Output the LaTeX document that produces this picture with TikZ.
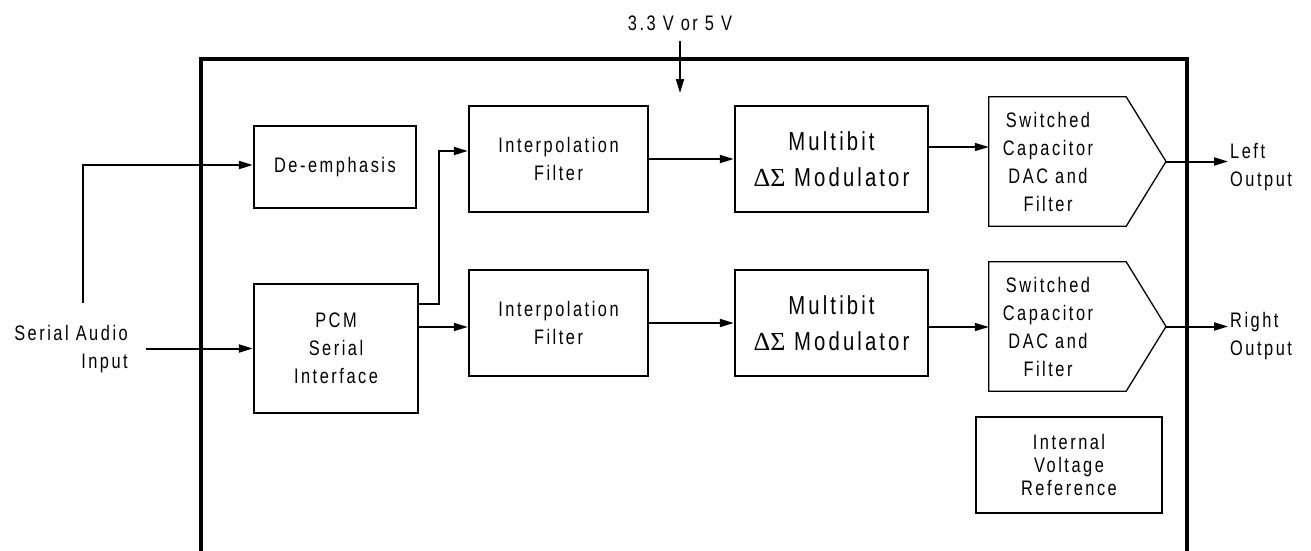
\documentclass[tikz,border=0pt]{standalone}
\usepackage{fontspec}
\setmainfont{Liberation Sans}[FakeStretch=0.78,LetterSpace=12]
\newfontfamily\grk{Liberation Serif}
\usetikzlibrary{arrows.meta}
\begin{document}
\begin{tikzpicture}[x=1pt,y=-1pt,
  blk/.style={draw,line width=2.4pt,inner sep=0pt,align=center,font=\fontsize{21}{28}\selectfont},
  modblk/.style={blk,font=\fontsize{26}{36}\selectfont},
  txt/.style={inner sep=0pt,font=\fontsize{21}{28}\selectfont},
  dacshape/.style={line width=1.3pt,line join=miter},
  arr/.style={line width=2pt,-{Triangle[length=14pt,width=8pt]}},
  tarr/.style={line width=1.4pt,-{Triangle[length=14pt,width=8pt]}},
  frame/.style={line width=3.2pt}]
\useasboundingbox (0,0) rectangle (1311,551);
% outer frame
\draw[frame] (201,556) -- (201,59) -- (1187,59) -- (1187,556);
% blocks
\node[blk,minimum width=162pt,minimum height=82pt] (deemph) at (335,167) {De-emphasis};
\node[blk,minimum width=164pt,minimum height=129pt] (pcm) at (336,348.5) {PCM\\Serial\\Interface};
\node[blk,minimum width=179pt,minimum height=106pt] (interp1) at (558.5,159) {Interpolation\\Filter};
\node[blk,minimum width=179pt,minimum height=106pt] (interp2) at (558.5,323) {Interpolation\\Filter};
\node[modblk,minimum width=193pt,minimum height=106pt] (mod1) at (831.5,159) {Multibit\\{\grk ΔΣ} Modulator};
\node[modblk,minimum width=193pt,minimum height=106pt] (mod2) at (831.5,323) {Multibit\\{\grk ΔΣ} Modulator};
\node[blk,minimum width=186pt,minimum height=96pt,font=\fontsize{21}{23}\selectfont] (vref) at (1069,465) {Internal\\Voltage\\Reference};
% DAC shapes
\node[inner sep=0pt,minimum width=137pt,minimum height=129pt] (dac1) at (1057.5,161.5) {};
\node[inner sep=0pt,minimum width=137pt,minimum height=129pt] (dac2) at (1057.5,326.5) {};
\coordinate (dac1tip) at (1166,161.5);
\coordinate (dac2tip) at (1166,326.5);
\draw[dacshape] (dac1.north west) -- (dac1.north east) -- (dac1tip) -- (dac1.south east) -- (dac1.south west) -- cycle;
\draw[dacshape] (dac2.north west) -- (dac2.north east) -- (dac2tip) -- (dac2.south east) -- (dac2.south west) -- cycle;
\node[txt,align=center] (dac1t) at (1048,162) {Switched\\Capacitor\\DAC and\\Filter};
\node[txt,align=center] (dac2t) at (1048,327) {Switched\\Capacitor\\DAC and\\Filter};
% labels
\node[txt] (vlabel) at (680,23) {3.3 V or 5 V};
\node[txt,align=right,anchor=east] (sin) at (128,349) {Serial Audio\\Input};
\node[txt,align=left,anchor=west] (lolab) at (1230,167.5) {Left\\Output};
\node[txt,align=left,anchor=west] (rolab) at (1230,336) {Right\\Output};
% coordinates
\coordinate (vin) at (680,41);
\coordinate (vend) at (680,93);
\coordinate (inA) at (146,348.5);
\coordinate (br) at (83,303);
\coordinate (sp) at (439,304);
\coordinate (lout) at (1228,161.5);
\coordinate (rout) at (1228,326.5);
% connectors
\draw[arr] (vin) -- (vend);
\draw[arr] (inA) -- (pcm.west);
\draw[arr] (br) |- (deemph.west |- 0,165);
\draw[arr] (pcm.east |- sp) -- (sp) |- (interp1.west |- 0,151);
\draw[tarr] (pcm.east |- 0,327) -- (interp2.west |- 0,327);
\draw[arr] (interp1.east) -- (mod1.west);
\draw[arr] (interp2.east) -- (mod2.west);
\draw[tarr] (mod1.east |- 0,147) -- (dac1.west |- 0,147);
\draw[tarr] (mod2.east |- 0,327) -- (dac2.west |- 0,327);
\draw[arr] (dac1tip) -- (lout);
\draw[arr] (dac2tip) -- (rout);
\end{tikzpicture}
\end{document}
